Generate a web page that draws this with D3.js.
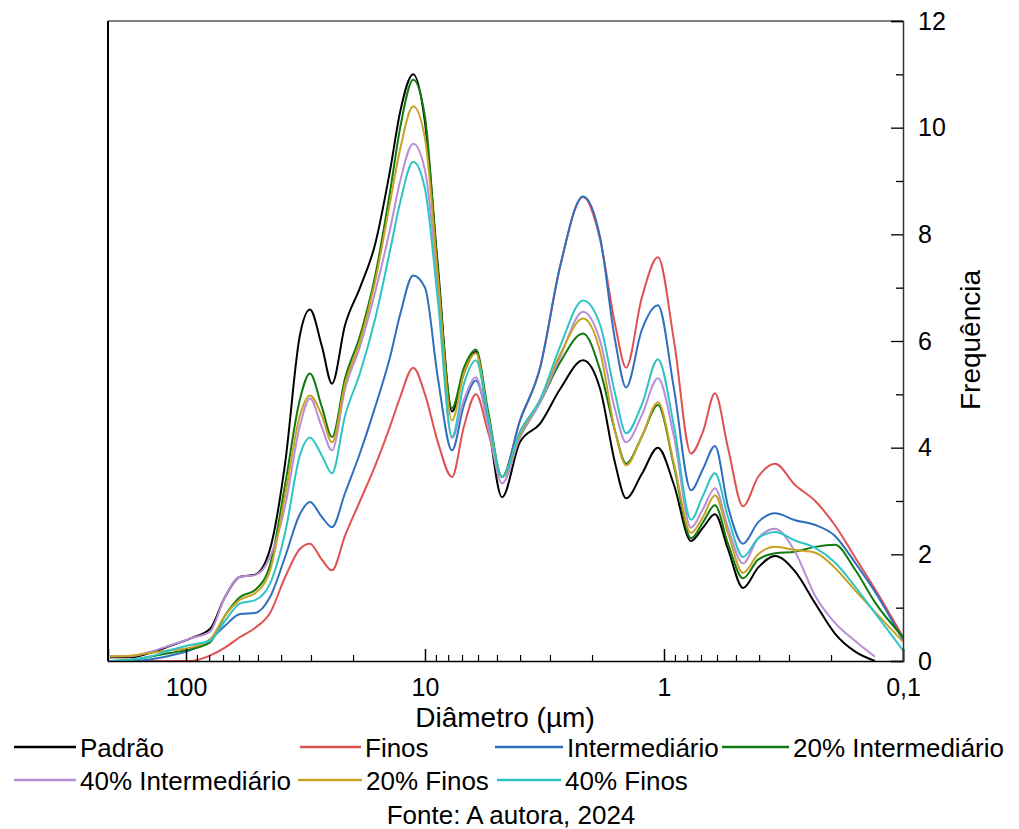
<!DOCTYPE html>
<html><head><meta charset="utf-8">
<script src="https://cdn.jsdelivr.net/npm/d3@7"></script>
<style>body{margin:0;background:#fff} svg text{font-family:"Liberation Sans",Arial,sans-serif;fill:#000}</style>
</head><body><svg id="c" width="1019" height="829"></svg>
<script>
// Particle diameter (µm) sample points, largest to smallest
const diameters = [208,171,142,117,96.2,79.4,68.7,59.4,51.4,44.5,38.5,33.4,30.3,27.0,24.5,21.6,18.7,16.2,14.0,12.7,11.2,10.0,8.83,7.71,6.87,6.12,5.45,4.76,4.01,3.30,2.72,2.18,1.85,1.60,1.44,1.24,1.06,0.908,0.771,0.687,0.612,0.540,0.467,0.404,0.343,0.283,0.233,0.193,0.159,0.131,0.100];

const padrao = [0.07,0.07,0.15,0.28,0.42,0.6,1.2,1.58,1.62,2.1,3.7,6.1,6.59,5.9,5.2,6.3,7.0,7.8,9.2,10.3,11.0,10.1,7.4,4.68,5.4,5.8,4.5,3.07,4.1,4.45,5.1,5.64,5.1,3.7,3.05,3.5,4.0,3.3,2.25,2.5,2.75,2.1,1.37,1.75,1.97,1.68,1.08,0.52,0.18,0,null];
const finos = [0,0,0,0,0,0.1,0.25,0.45,0.62,0.9,1.57,2.1,2.2,1.9,1.7,2.35,3.0,3.65,4.4,4.95,5.5,5.0,4.1,3.45,4.4,5.0,4.3,3.45,4.5,5.5,7.4,8.7,7.9,6.3,5.5,6.8,7.57,6.0,3.89,4.3,5.02,4.0,2.9,3.45,3.7,3.3,3.0,2.55,1.95,1.35,0.45];
const intermediario = [0,0,0.03,0.1,0.2,0.4,0.66,0.88,0.9,1.2,1.95,2.75,2.98,2.7,2.51,3.15,3.9,4.75,5.7,6.5,7.23,7.0,5.3,3.95,4.8,5.26,4.5,3.45,4.5,5.5,7.4,8.71,7.94,6.0,5.13,6.2,6.67,5.1,3.2,3.6,4.03,2.9,2.2,2.6,2.77,2.64,2.55,2.35,1.85,1.3,0.39];
const inter20 = [0,0.02,0.08,0.15,0.22,0.35,0.85,1.2,1.33,1.8,3.3,4.9,5.39,4.76,4.2,5.3,6.1,7.2,8.8,10.0,10.9,10.2,7.3,4.74,5.5,5.84,4.7,3.45,4.2,4.85,5.6,6.14,5.45,4.3,3.7,4.2,4.8,3.65,2.3,2.6,2.92,2.2,1.55,1.9,2.02,2.05,2.14,2.18,1.72,1.1,0.45];
const inter40 = [0.09,0.09,0.17,0.29,0.42,0.55,1.2,1.58,1.61,1.95,2.9,4.4,4.92,4.38,3.95,5.1,5.9,6.9,8.1,9.0,9.7,9.2,7.0,4.18,4.9,5.32,4.4,3.33,4.2,4.85,5.7,6.55,6.0,4.7,4.1,4.6,5.3,4.2,2.5,2.85,3.24,2.5,1.83,2.3,2.48,2.05,1.22,0.72,0.38,0.08,null];
const finos20 = [0.09,0.1,0.15,0.2,0.25,0.4,0.85,1.15,1.27,1.7,3.1,4.6,4.98,4.6,4.1,5.2,6.0,7.1,8.6,9.6,10.4,9.8,7.2,4.51,5.4,5.77,4.6,3.45,4.25,4.9,5.75,6.42,5.8,4.3,3.67,4.2,4.85,3.7,2.4,2.7,3.11,2.4,1.65,2.0,2.14,2.08,2.03,1.75,1.33,0.92,0.36];
const finos40 = [0,0.02,0.08,0.2,0.3,0.38,0.75,1.08,1.14,1.45,2.4,3.85,4.19,3.85,3.52,4.6,5.4,6.4,7.7,8.6,9.36,8.85,6.75,4.2,5.2,5.64,4.6,3.45,4.3,4.9,5.9,6.76,6.3,5.0,4.27,4.8,5.66,4.4,2.65,3.1,3.52,2.7,1.95,2.3,2.42,2.26,2.12,1.85,1.4,0.9,0.2];

const seriesNames = ["Padrão","Finos","Intermediário","20% Intermediário","40% Intermediário","20% Finos","40% Finos"];
const seriesValues = [padrao, finos, intermediario, inter20, inter40, finos20, finos40];
const seriesColors = ["#000000","#e05252","#2f6fbf","#107a10","#b88fd6","#c8a224","#2fc4c4"];

const xMajorTicks = [100, 10, 1, 0.1];
const xTickLabels = ["100", "10", "1", "0,1"];
const yMajorTicks = [0, 2, 4, 6, 8, 10, 12];
const yMinorTicks = [1, 3, 5, 7, 9, 11];
const xLabel = "Diâmetro (µm)";
const yLabel = "Frequência";
const sourceText = "Fonte: A autora, 2024";

const svg = d3.select("#c");
const L = 108, R = 903, T = 21, B = 661;
const x = d3.scaleLog().domain([212, 0.1]).range([L, R]);
const y = d3.scaleLinear().domain([0, 12]).range([B, T]);

const xMinorTicks = [];
[100, 10, 1].forEach(dec => { for (let k = 2; k <= 9; k++) { const v = dec / 10 * k; if (v <= 212 && v >= 0.1) xMinorTicks.push(v); } });

// frame (top and left)
svg.append("line").attr("x1", L).attr("x2", R).attr("y1", T).attr("y2", T).attr("stroke", "#555").attr("stroke-width", 1.5);
svg.append("line").attr("x1", L).attr("x2", L).attr("y1", T).attr("y2", B).attr("stroke", "#000").attr("stroke-width", 2);

const line = d3.line()
  .defined(d => d[1] !== null)
  .x(d => x(d[0])).y(d => y(d[1]))
  .curve(d3.curveMonotoneX);

seriesValues.forEach((vals, i) => {
  const pts = diameters.map((d, j) => [d, vals[j]]);
  svg.append("path").datum(pts).attr("d", line)
    .attr("fill", "none").attr("stroke", seriesColors[i]).attr("stroke-width", 2)
    .attr("stroke-linejoin", "round");
});

// bottom axis: ticks pointing up
const gxMaj = svg.append("g").attr("transform", `translate(0,${B})`)
  .call(d3.axisTop(x).tickValues(xMajorTicks).tickSize(12).tickFormat(""));
gxMaj.select(".domain").attr("stroke-width", 1.5);
gxMaj.selectAll(".tick line").attr("stroke-width", 1.5);
const gxMin = svg.append("g").attr("transform", `translate(0,${B})`)
  .call(d3.axisTop(x).tickValues(xMinorTicks).tickSize(6).tickFormat(""));
gxMin.select(".domain").remove();
gxMin.selectAll(".tick line").attr("stroke-width", 1.2);
const gxLab = svg.append("g").attr("transform", `translate(0,${B})`)
  .call(d3.axisBottom(x).tickValues(xMajorTicks).tickSize(0).tickPadding(17)
    .tickFormat((d, i) => xTickLabels[i]));
gxLab.select(".domain").remove();
gxLab.selectAll("text").attr("font-size", 25).attr("font-family", "Liberation Sans, Arial, sans-serif");

// right axis: ticks pointing left, labels on the right
const gyMaj = svg.append("g").attr("transform", `translate(${R},0)`)
  .call(d3.axisLeft(y).tickValues(yMajorTicks).tickSize(12).tickFormat(""));
gyMaj.select(".domain").attr("stroke", "#333").attr("stroke-width", 1.5);
gyMaj.selectAll(".tick line").attr("stroke-width", 1.3);
const gyMin = svg.append("g").attr("transform", `translate(${R},0)`)
  .call(d3.axisLeft(y).tickValues(yMinorTicks).tickSize(7).tickFormat(""));
gyMin.select(".domain").remove();
gyMin.selectAll(".tick line").attr("stroke-width", 1.3);
const gyLab = svg.append("g").attr("transform", `translate(${R},0)`)
  .call(d3.axisRight(y).tickValues(yMajorTicks).tickSize(0).tickPadding(15));
gyLab.select(".domain").remove();
gyLab.selectAll("text").attr("font-size", 25).attr("font-family", "Liberation Sans, Arial, sans-serif");

// axis titles
svg.append("text").attr("x", 505).attr("y", 727).attr("text-anchor", "middle")
  .attr("font-size", 28).text(xLabel);
svg.append("text").attr("transform", `translate(980,340) rotate(-90)`).attr("text-anchor", "middle")
  .attr("font-size", 28).text(yLabel);

// legend
const legendPos = [
  {lx: 14, tx: 80, y: 747}, {lx: 300, tx: 365, y: 747}, {lx: 495, tx: 567, y: 747}, {lx: 722, tx: 793, y: 747},
  {lx: 14, tx: 80, y: 780}, {lx: 298, tx: 366, y: 780}, {lx: 497, tx: 565, y: 780}
];
seriesNames.forEach((name, i) => {
  const p = legendPos[i];
  svg.append("line").attr("x1", p.lx).attr("x2", p.tx - 4).attr("y1", p.y).attr("y2", p.y)
    .attr("stroke", seriesColors[i]).attr("stroke-width", 2.5);
  svg.append("text").attr("x", p.tx).attr("y", p.y + 9.5).attr("font-size", 26).text(name);
});

svg.append("text").attr("x", 511).attr("y", 824).attr("text-anchor", "middle")
  .attr("font-size", 26).text(sourceText);
</script></body></html>
